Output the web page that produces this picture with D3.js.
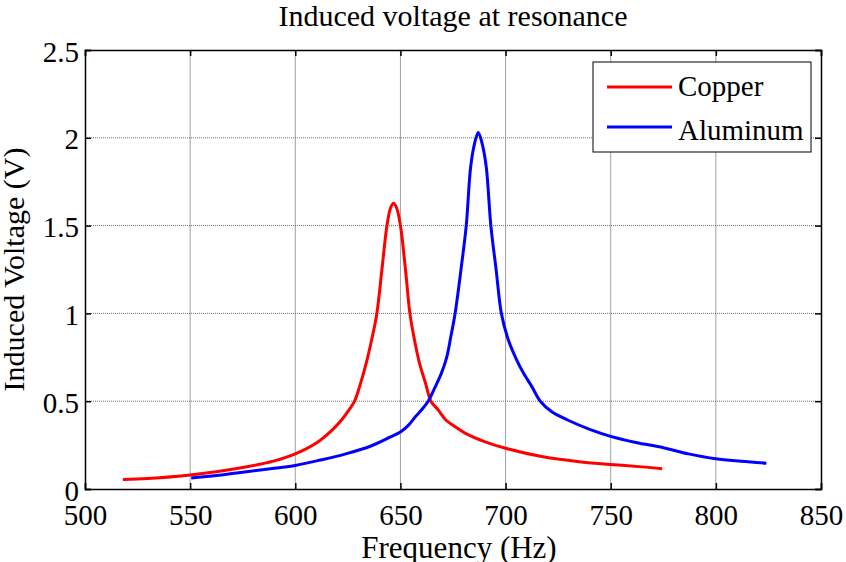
<!DOCTYPE html>
<html>
<head>
<meta charset="utf-8">
<script src="https://cdn.jsdelivr.net/npm/d3@7"></script>
<style>
  body { margin: 0; background: white; }
  svg text { font-family: "Liberation Serif", "Times New Roman", serif; fill: black; }
</style>
</head>
<body>
<svg id="chart" width="846" height="562"></svg>
<script>
// --------------------------------------------------------------------------------------
// data
// --------------------------------------------------------------------------------------
var copper_freq = [518, 530, 550, 575, 590, 600, 610, 617, 622, 625.5, 628.2, 631, 633.8, 636.5, 638.8,
                   641.2, 643.6, 645.3, 646.7, 648.2, 650, 652.4, 654.5, 656.5, 659, 662, 664.5, 668,
                   671.6, 676, 680.5, 690, 700, 716.6, 735, 750, 765, 774.5];
var copper_volt = [0.054, 0.06, 0.08, 0.122, 0.16, 0.2, 0.262, 0.33, 0.393, 0.45, 0.5, 0.6, 0.72, 0.86, 1.0,
                   1.25, 1.5, 1.6, 1.627, 1.6, 1.5, 1.25, 1.0, 0.86, 0.72, 0.6, 0.5, 0.45,
                   0.393, 0.355, 0.32, 0.27, 0.232, 0.186, 0.155, 0.14, 0.126, 0.115];

var aluminum_freq = [550.5, 565, 575, 590, 600, 612, 624, 636, 645, 650, 654, 657, 660, 663.2, 666.6, 669.5,
                     672, 674, 676, 678.8, 681.3, 683.4, 685.3, 687, 688.8, 690.8, 693, 695.5, 698, 701,
                     704.7, 708.5, 712.5, 716.5, 722, 729.5, 740, 750, 762, 775, 787, 800, 812, 824];
var aluminum_volt = [0.063, 0.08, 0.096, 0.118, 0.134, 0.165, 0.2, 0.245, 0.295, 0.325, 0.365, 0.41, 0.45, 0.5, 0.583, 0.66,
                     0.75, 0.87, 1.0, 1.25, 1.5, 1.835, 1.97, 2.03, 1.97, 1.835, 1.5, 1.25, 1.0, 0.86,
                     0.75, 0.66, 0.583, 0.5, 0.44, 0.393, 0.34, 0.3, 0.265, 0.235, 0.2, 0.172, 0.158, 0.147];

var x_ticks = [500, 550, 600, 650, 700, 750, 800, 850];
var y_ticks = [0, 0.5, 1, 1.5, 2, 2.5];
var y_tick_labels = ["0", "0.5", "1", "1.5", "2", "2.5"];

var series_names = ["Copper", "Aluminum"];
var colors = ["#ff0000", "#0000ff"];

// --------------------------------------------------------------------------------------
draw_chart();
// --------------------------------------------------------------------------------------
function draw_chart()
{
  var margin = {top: 50, right: 25, bottom: 73, left: 85};
  var width = 846 - margin.left - margin.right;     // 736
  var height = 562 - margin.top - margin.bottom;    // 439

  var x = d3.scaleLinear().domain([500, 850]).range([0, width]);
  var y = d3.scaleLinear().domain([0, 2.5]).range([height, 0]);

  var root = d3.select("#chart");

  // title
  root.append("text")
      .attr("x", margin.left + width / 2)
      .attr("y", 26)
      .attr("text-anchor", "middle")
      .style("font-size", "30px")
      .text("Induced voltage at resonance");

  var svg = root.append("g")
                .attr("transform", "translate(" + margin.left + "," + margin.top + ")");

  // ==================================================
  // grid
  svg.append("g")
     .selectAll("line")
     .data(x_ticks.slice(1, -1))
     .enter()
     .append("line")
     .attr("x1", function(d) { return x(d); })
     .attr("x2", function(d) { return x(d); })
     .attr("y1", 0)
     .attr("y2", height)
     .style("stroke", "#a0a0a0")
     .style("stroke-width", 1);

  svg.append("g")
     .selectAll("line")
     .data(y_ticks.slice(1, -1))
     .enter()
     .append("line")
     .attr("x1", 0)
     .attr("x2", width)
     .attr("y1", function(d) { return y(d); })
     .attr("y2", function(d) { return y(d); })
     .style("stroke", "#707070")
     .style("stroke-width", 1)
     .style("stroke-dasharray", "1,1");

  // ==================================================
  // curves
  var line = d3.line()
               .x(function(d) { return x(d[0]); })
               .y(function(d) { return y(d[1]); })
               .curve(d3.curveCatmullRom.alpha(0.5));

  var curves = [d3.zip(copper_freq, copper_volt), d3.zip(aluminum_freq, aluminum_volt)];

  svg.selectAll(".curve")
     .data(curves)
     .enter()
     .append("path")
     .attr("class", "curve")
     .attr("d", line)
     .style("fill", "none")
     .style("stroke", function(d, i) { return colors[i]; })
     .style("stroke-width", 3)
     .style("stroke-linejoin", "round");

  // ==================================================
  // axes - ticks point inward, on all four sides like matlab
  var tick_len = 6;

  var x_axis = svg.append("g")
                  .attr("transform", "translate(0," + height + ")")
                  .call(d3.axisBottom(x).tickValues(x_ticks).tickSize(-tick_len).tickPadding(15));
  x_axis.selectAll("text").style("font-size", "29px").attr("dy", "0.71em");

  var y_axis = svg.append("g")
                  .call(d3.axisLeft(y).tickValues(y_ticks).tickSize(-tick_len).tickPadding(6)
                  .tickFormat(function(d, i) { return y_tick_labels[i]; }));
  y_axis.selectAll("text").style("font-size", "29px").attr("dy", "0.38em");

  svg.append("g")
     .call(d3.axisTop(x).tickValues(x_ticks).tickSize(-tick_len).tickFormat(""));

  svg.append("g")
     .attr("transform", "translate(" + width + ",0)")
     .call(d3.axisRight(y).tickValues(y_ticks).tickSize(-tick_len).tickFormat(""));

  svg.selectAll(".domain").style("stroke", "black").style("stroke-width", 1.5);
  svg.selectAll(".tick line").style("stroke", "black").style("stroke-width", 1.5);

  // ==================================================
  // axis labels
  svg.append("text")
     .attr("x", width / 2 + 6)
     .attr("y", height + 69)
     .attr("text-anchor", "middle")
     .style("font-size", "31px")
     .text("Frequency (Hz)");

  svg.append("text")
     .attr("transform", "rotate(-90)")
     .attr("x", 0 - height / 2)
     .attr("y", 24 - margin.left)
     .attr("text-anchor", "middle")
     .style("font-size", "30px")
     .text("Induced Voltage (V)");

  // ==================================================
  // legend
  var legend = svg.append("g")
                  .attr("transform", "translate(" + (593 - margin.left) + "," + (62 - margin.top) + ")");

  legend.append("rect")
        .attr("width", 218)
        .attr("height", 90)
        .style("fill", "white")
        .style("stroke", "black")
        .style("stroke-width", 1);

  var rows = legend.selectAll(".row")
                   .data(series_names)
                   .enter()
                   .append("g")
                   .attr("class", "row")
                   .attr("transform", function(d, i) { return "translate(0," + (25 + i * 40) + ")"; });

  rows.append("line")
      .attr("x1", 14)
      .attr("x2", 79)
      .style("stroke", function(d, i) { return colors[i]; })
      .style("stroke-width", 3);

  rows.append("text")
      .attr("x", 85)
      .attr("y", function(d, i) { return i == 0 ? 9 : 13; })
      .style("font-size", "29px")
      .text(function(d) { return d; });
}
// --------------------------------------------------------------------------------------
</script>
</body>
</html>
